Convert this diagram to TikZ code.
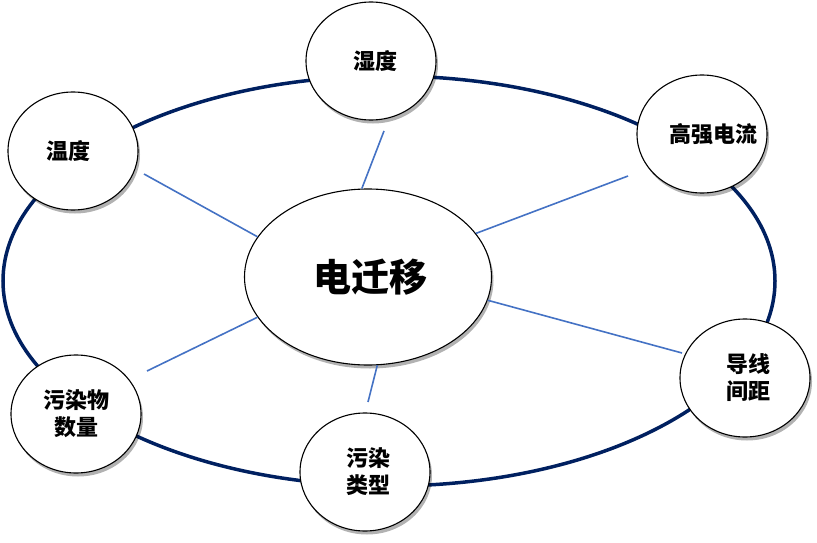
\documentclass[tikz,border=0pt]{standalone}
\usepackage{fontspec}
\newfontfamily\cjk{Noto Sans CJK SC}
\usetikzlibrary{shapes.geometric,shadows}
\definecolor{navy}{RGB}{0,32,96}
\definecolor{spokeblue}{RGB}{68,114,196}
\newcommand{\zl}[1]{\makebox[0pt]{#1}}
\tikzset{
  ring/.style={draw=navy,line width=3.5pt},
  spoke/.style={draw=spokeblue,line width=1.6pt},
  bubble/.style={ellipse,draw=black,line width=1.1pt,fill=white,
    minimum width=130pt,minimum height=118pt,inner sep=0pt,align=center,
    font=\cjk\bfseries\fontsize{22}{27}\selectfont,
    drop shadow={shadow xshift=2pt,shadow yshift=-3.5pt,fill=black,opacity=0.3}},
  hub/.style={ellipse,draw=black,line width=1.1pt,fill=white,
    minimum width=247pt,minimum height=176pt,inner sep=0pt,
    font=\cjk\bfseries\fontsize{38}{40}\selectfont,
    drop shadow={shadow xshift=2pt,shadow yshift=-3.5pt,fill=black,opacity=0.3}}
}
\begin{document}
\begin{tikzpicture}[x=1pt,y=-1pt]
\useasboundingbox (0,0) rectangle (817,543);
\draw[ring] (389,281) ellipse [x radius=386,y radius=205];
\node[hub] (c) at (368,277) {\zl{\hspace*{4pt}电迁移}};
% spoke free ends
\coordinate (e1) at (384,131);
\coordinate (e2) at (628,176);
\coordinate (e3) at (682,353);
\coordinate (e4) at (368,402);
\coordinate (e5) at (147,371);
\coordinate (e6) at (144,174);
\draw[spoke] (c.94) -- (e1);
\draw[spoke] (c.22) -- (e2);
\draw[spoke] (c.-11) -- (e3);
\draw[spoke] (c.-84) -- (e4);
\draw[spoke] (c.200) -- (e5);
\draw[spoke] (c.160) -- (e6);
\node[bubble] (shidu) at (371,61) {\zl{\hspace*{8pt}湿度}};
\node[bubble] (gaoqiang) at (702,134) {\zl{\hspace*{22pt}高强电流}};
\node[bubble] (daoxian) at (745,378) {\zl{\hspace*{6pt}导线}\\\zl{\hspace*{6pt}间距}};
\node[bubble] (wuranlx) at (365,472) {\zl{\hspace*{6pt}污染}\\\zl{\hspace*{6pt}类型}};
\node[bubble] (wuranwu) at (76,414) {\zl{污染物}\\\zl{数量}};
\node[bubble] (wendu) at (73,151) {\zl{温度\hspace*{10pt}}};
\end{tikzpicture}
\end{document}
